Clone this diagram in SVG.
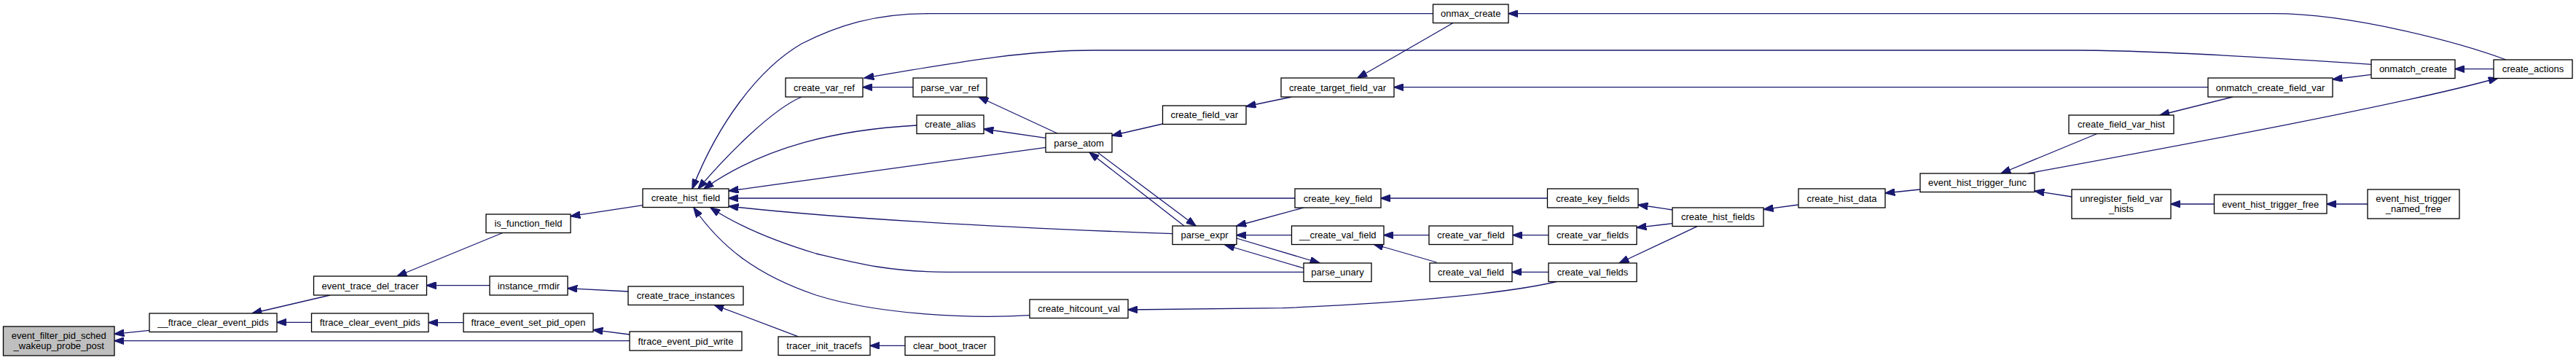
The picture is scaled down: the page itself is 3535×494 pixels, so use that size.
<svg xmlns="http://www.w3.org/2000/svg" width="3535" height="494" viewBox="0 0 3535 494">
<style>
.n rect{fill:#ffffff;stroke:#000000;stroke-width:1.3}
.n.root rect{fill:#bfbfbf}
.n text{font-family:"Liberation Sans",Arial,Helvetica,sans-serif;font-size:13px;fill:#000000;text-anchor:middle}
.e path{fill:none;stroke:#191970;stroke-width:1.3;marker-end:url(#ah)}
</style>
<defs>
<marker id="ah" markerUnits="userSpaceOnUse" markerWidth="14" markerHeight="10" viewBox="0 0 13 9.4" refX="12.5" refY="4.7" orient="auto">
<path d="M0,0 L13,4.7 L0,9.4 z" fill="#191970" stroke="#191970" stroke-width="1"/>
</marker>
</defs>
<rect x="0" y="0" width="3535" height="494" fill="#ffffff"/>
<g id="edges" class="e">
<path d="M205,453.3 L157,458.3"/>
<path d="M864,467.7 L157,467.7"/>
<path d="M453,405 L346,430"/>
<path d="M427.5,442.3 L380,442.3"/>
<path d="M691,319 L545,379"/>
<path d="M672,391.7 L585.5,391.7"/>
<path d="M636,442.7 L588,442.7"/>
<path d="M864,459 L814,452.7"/>
<path d="M862.5,400 L779,395.7"/>
<path d="M1094.7,461.7 L980,418.3"/>
<path d="M1242,474.3 L1194,474.3"/>
<path d="M882,281.7 L783,296.7"/>
<path d="M1966.5,18.7 L1275,18.7 C1200,18.7 1150,35 1100,60 C1040,95 985,170 950,259"/>
<path d="M1100,133 C1060,150 1000,210 958,259"/>
<path d="M1258,172 C1150,178 1050,200 966,259"/>
<path d="M1435,202.3 L1000,262"/>
<path d="M1777,272 L1000,272"/>
<path d="M1609,320.7 C1400,313 1150,300 1000,283"/>
<path d="M1789,373.3 L1300,373.3 C1220,373.3 1170,360 1120,348 C1060,330 1010,308 975,285"/>
<path d="M1413,432.7 C1320,438 1200,430 1120,405 C1040,378 990,340 952,285"/>
<path d="M1790,284.7 L1697,310"/>
<path d="M1772.5,322.7 L1697,322.7"/>
<path d="M1697,327 L1811,361"/>
<path d="M1789,368 L1681,336"/>
<path d="M1506,209 L1641,310"/>
<path d="M1625,310 L1495,209"/>
<path d="M1451,183 L1343,133"/>
<path d="M1435,189.3 L1350,177"/>
<path d="M1595.5,170 L1526,186"/>
<path d="M1772.5,133 L1710,146"/>
<path d="M1253,119.7 L1184,119.7"/>
<path d="M3254,88.3 C3100,78 2950,69 2850,69 L1500,69 C1400,69 1300,88 1186,107"/>
<path d="M1994.5,31.3 L1863,107"/>
<path d="M3030,119.7 L1913,119.7"/>
<path d="M3439,82 C3380,60 3230,18.7 3120,18.7 L2070,18.7"/>
<path d="M3254,102.3 L3201,109"/>
<path d="M3422,94.7 L3369,94.7"/>
<path d="M2783,238 C3000,198 3300,143 3428,107"/>
<path d="M3064,133 L2964,158"/>
<path d="M2879,183 L2746,238"/>
<path d="M2843,270 L2792,262"/>
<path d="M3038.5,280 L2979,280"/>
<path d="M3249,280 L3193,280"/>
<path d="M2634.6,260 L2587,265"/>
<path d="M2467.7,281 L2420.3,287.3"/>
<path d="M2295,288 L2248,281"/>
<path d="M2295,306.7 L2246,312.3"/>
<path d="M2329,310.7 L2222,361"/>
<path d="M2123.5,272 L1895,272"/>
<path d="M2125,322.7 L2076,322.7"/>
<path d="M1961,322.7 L1899,322.7"/>
<path d="M1971.5,360 L1885,335"/>
<path d="M2125,373.3 L2075,373.3"/>
<path d="M2138,386 C2080,400 1950,415 1760,422.7 L1548,425"/>
</g>
<g id="n_event_filter_pid_sched_wakeup_probe_post" class="n root"><rect x="4.5" y="448" width="152.5" height="40"/><text x="80.75" y="465">event_filter_pid_sched</text><text x="80.75" y="479">_wakeup_probe_post</text></g>
<g id="n___ftrace_clear_event_pids" class="n"><rect x="205" y="430" width="175" height="25.5"/><text x="292.5" y="447.2">__ftrace_clear_event_pids</text></g>
<g id="n_event_trace_del_tracer" class="n"><rect x="430.5" y="379" width="155" height="26"/><text x="508" y="396.5">event_trace_del_tracer</text></g>
<g id="n_ftrace_clear_event_pids" class="n"><rect x="427.5" y="430" width="160.5" height="25.5"/><text x="507.75" y="447.2">ftrace_clear_event_pids</text></g>
<g id="n_is_function_field" class="n"><rect x="667" y="294" width="116" height="25.5"/><text x="725" y="311.2">is_function_field</text></g>
<g id="n_instance_rmdir" class="n"><rect x="672" y="379" width="107" height="26"/><text x="725.5" y="396.5">instance_rmdir</text></g>
<g id="n_ftrace_event_set_pid_open" class="n"><rect x="636" y="430" width="178" height="25.5"/><text x="725" y="447.2">ftrace_event_set_pid_open</text></g>
<g id="n_create_hist_field" class="n"><rect x="882" y="259" width="118" height="25.5"/><text x="941" y="276.2">create_hist_field</text></g>
<g id="n_create_trace_instances" class="n"><rect x="862" y="393" width="158" height="25.5"/><text x="941" y="410.2">create_trace_instances</text></g>
<g id="n_ftrace_event_pid_write" class="n"><rect x="864" y="455" width="154" height="26"/><text x="941" y="472.5">ftrace_event_pid_write</text></g>
<g id="n_create_var_ref" class="n"><rect x="1078" y="107" width="106" height="26"/><text x="1131" y="124.5">create_var_ref</text></g>
<g id="n_tracer_init_tracefs" class="n"><rect x="1068" y="462" width="126" height="25.5"/><text x="1131" y="479.2">tracer_init_tracefs</text></g>
<g id="n_parse_var_ref" class="n"><rect x="1253" y="107" width="101" height="26"/><text x="1303.5" y="124.5">parse_var_ref</text></g>
<g id="n_create_alias" class="n"><rect x="1258" y="158" width="92" height="25.5"/><text x="1304" y="175.2">create_alias</text></g>
<g id="n_parse_atom" class="n"><rect x="1435" y="183" width="91" height="26"/><text x="1480.5" y="200.5">parse_atom</text></g>
<g id="n_create_hitcount_val" class="n"><rect x="1413" y="411" width="135" height="25.5"/><text x="1480.5" y="428.2">create_hitcount_val</text></g>
<g id="n_clear_boot_tracer" class="n"><rect x="1242" y="462" width="123" height="25.5"/><text x="1303.5" y="479.2">clear_boot_tracer</text></g>
<g id="n_create_field_var" class="n"><rect x="1595.5" y="145" width="114.5" height="25.5"/><text x="1652.75" y="162.2">create_field_var</text></g>
<g id="n_parse_expr" class="n"><rect x="1609" y="310" width="88" height="25.5"/><text x="1653" y="327.2">parse_expr</text></g>
<g id="n_create_target_field_var" class="n"><rect x="1758" y="107" width="155" height="26"/><text x="1835.5" y="124.5">create_target_field_var</text></g>
<g id="n_create_key_field" class="n"><rect x="1777" y="259" width="118" height="26"/><text x="1836" y="276.5">create_key_field</text></g>
<g id="n___create_val_field" class="n"><rect x="1772.5" y="310" width="126.5" height="25.5"/><text x="1835.75" y="327.2">__create_val_field</text></g>
<g id="n_parse_unary" class="n"><rect x="1789" y="361" width="93" height="25.5"/><text x="1835.5" y="378.2">parse_unary</text></g>
<g id="n_onmax_create" class="n"><rect x="1966.5" y="6" width="103.5" height="25.5"/><text x="2018.25" y="23.2">onmax_create</text></g>
<g id="n_create_var_field" class="n"><rect x="1961" y="310" width="115" height="25.5"/><text x="2018.5" y="327.2">create_var_field</text></g>
<g id="n_create_val_field" class="n"><rect x="1962" y="361" width="113" height="25.5"/><text x="2018.5" y="378.2">create_val_field</text></g>
<g id="n_create_key_fields" class="n"><rect x="2123.5" y="259" width="124.5" height="26"/><text x="2185.75" y="276.5">create_key_fields</text></g>
<g id="n_create_var_fields" class="n"><rect x="2125" y="310" width="121" height="25.5"/><text x="2185.5" y="327.2">create_var_fields</text></g>
<g id="n_create_val_fields" class="n"><rect x="2125" y="361" width="121" height="25.5"/><text x="2185.5" y="378.2">create_val_fields</text></g>
<g id="n_create_hist_fields" class="n"><rect x="2295" y="285" width="125" height="25.5"/><text x="2357.5" y="302.2">create_hist_fields</text></g>
<g id="n_create_hist_data" class="n"><rect x="2468" y="259" width="119" height="26"/><text x="2527.5" y="276.5">create_hist_data</text></g>
<g id="n_event_hist_trigger_func" class="n"><rect x="2635" y="238" width="157" height="25.5"/><text x="2713.5" y="255.2">event_hist_trigger_func</text></g>
<g id="n_create_field_var_hist" class="n"><rect x="2839" y="158" width="144" height="25.5"/><text x="2911" y="175.2">create_field_var_hist</text></g>
<g id="n_unregister_field_var_hists" class="n"><rect x="2843" y="260" width="136" height="40"/><text x="2911" y="277">unregister_field_var</text><text x="2911" y="291">_hists</text></g>
<g id="n_event_hist_trigger_free" class="n"><rect x="3038.5" y="267" width="154.5" height="26"/><text x="3115.75" y="284.5">event_hist_trigger_free</text></g>
<g id="n_event_hist_trigger_named_free" class="n"><rect x="3249" y="260" width="126" height="40"/><text x="3312" y="277">event_hist_trigger</text><text x="3312" y="291">_named_free</text></g>
<g id="n_onmatch_create_field_var" class="n"><rect x="3030" y="107" width="171" height="26"/><text x="3115.5" y="124.5">onmatch_create_field_var</text></g>
<g id="n_onmatch_create" class="n"><rect x="3254" y="82" width="115" height="25.5"/><text x="3311.5" y="99.2">onmatch_create</text></g>
<g id="n_create_actions" class="n"><rect x="3422" y="82" width="108" height="25.5"/><text x="3476" y="99.2">create_actions</text></g>
</svg>
